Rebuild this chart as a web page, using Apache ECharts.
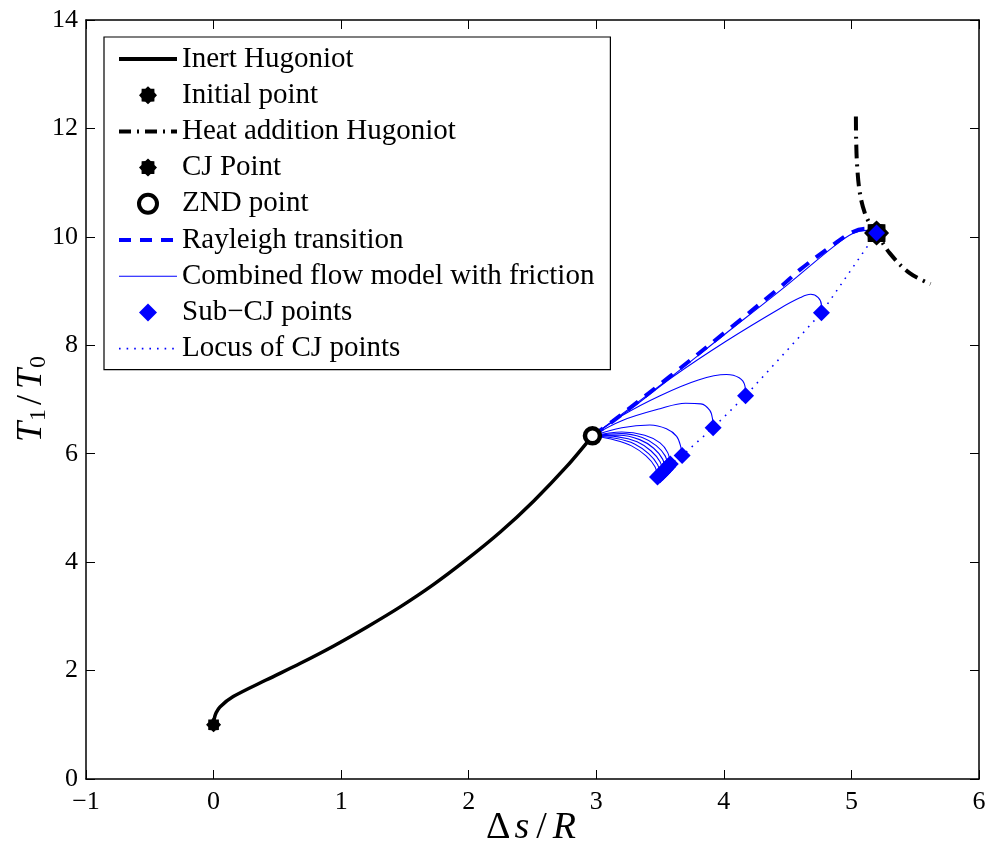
<!DOCTYPE html>
<html>
<head>
<meta charset="utf-8">
<script src="https://cdn.jsdelivr.net/npm/echarts@6/dist/echarts.min.js"></script>
<style>
html, body { margin: 0; padding: 0; background: #fff; }
#chart { width: 992px; height: 853px; }
</style>
</head>
<body>
<div id="chart"></div>
<script>
// ---- data (x = ds/R, y = T1/T0) ----
var inertHugoniot = [[0,1],[0.004,1.1],[0.02,1.22],[0.05,1.33],[0.154,1.52],[0.416,1.83],[0.677,2.13],[0.938,2.45],[1.2,2.8],[1.46,3.17],[1.72,3.58],[1.98,4.04],[2.25,4.56],[2.51,5.13],[2.77,5.77],[2.97,6.33]];
var initialPoint = [[0,1]];
var heatHugoniot = [[5.035,12.22],[5.037,11.79],[5.045,11.3],[5.066,10.81],[5.105,10.44],[5.157,10.19],[5.197,10.07],[5.3,9.7],[5.457,9.33],[5.62,9.13]];
var cjPoint = [[5.197,10.07]];
var zndPoint = [[2.97,6.33]];
var rayleigh = [[2.97,6.33],[3.13,6.6],[3.58,7.43],[4.02,8.26],[4.44,9.07],[4.6,9.4],[4.86,9.86],[5.01,10.09],[5.12,10.15],[5.197,10.07]];
// combined flow model curves, one per friction level
var flow0 = [[2.97,6.33],[3.5,7.26],[4.0,8.19],[4.5,9.12],[4.86,9.82],[5.01,10.06],[5.12,10.12],[5.197,10.07]];
var flow1 = [[2.97,6.33],[3.3,6.88],[3.6,7.42],[4.02,8.08],[4.44,8.68],[4.6,8.88],[4.68,8.94],[4.74,8.88],[4.765,8.74],[4.765,8.6]];
var flow2 = [[2.97,6.33],[3.2,6.7],[3.5,7.07],[3.8,7.36],[4.02,7.46],[4.12,7.4],[4.165,7.25],[4.17,7.07]];
var flow3 = [[2.97,6.33],[3.2,6.61],[3.5,6.83],[3.7,6.93],[3.82,6.92],[3.89,6.8],[3.912,6.63],[3.916,6.48]];
var flow4 = [[2.97,6.33],[3.2,6.48],[3.42,6.53],[3.55,6.46],[3.63,6.32],[3.662,6.13],[3.673,5.965]];
var flow5 = [[2.97,6.33],[3.2,6.4],[3.38,6.34],[3.5,6.2],[3.56,6.02],[3.58,5.81]];
var flow6 = [[2.97,6.33],[3.2,6.37],[3.36,6.3],[3.47,6.15],[3.54,5.96],[3.56,5.76]];
var flow7 = [[2.97,6.33],[3.18,6.34],[3.34,6.26],[3.45,6.1],[3.52,5.9],[3.54,5.71]];
var flow8 = [[2.97,6.33],[3.17,6.31],[3.32,6.22],[3.43,6.05],[3.5,5.85],[3.52,5.66]];
var flow9 = [[2.97,6.33],[3.16,6.28],[3.3,6.18],[3.41,6.0],[3.48,5.8],[3.5,5.61]];
var flow10 = [[2.97,6.33],[3.15,6.25],[3.28,6.14],[3.39,5.96],[3.46,5.76],[3.48,5.57]];
var subCJ = [[3.48,5.57],[3.5,5.61],[3.52,5.66],[3.54,5.71],[3.56,5.76],[3.58,5.81],[3.673,5.965],[3.916,6.48],[4.17,7.07],[4.765,8.6],[5.197,10.07]];
var cjLocus = [[3.48,5.57],[3.58,5.81],[3.673,5.965],[3.916,6.48],[4.17,7.07],[4.765,8.6],[5.197,10.07]];
var xTicks = [-1, 6, 1];
var yTicks = [0, 14, 2];

var BLUE = '#0000ff';
var FONT = 'Liberation Serif';

// spiky filled marker (like the MATLAB star markers)
function starPath(n, inner) {
	var s = 'path://', i, a, r;
	for (i = 0; i < 2 * n; i++) {
		a = Math.PI * i / n;
		r = (i % 2) ? inner : 1;
		s += (i ? 'L' : 'M') + (50 + 50 * r * Math.sin(a)).toFixed(2) + ',' + (50 - 50 * r * Math.cos(a)).toFixed(2);
	}
	return s + 'Z';
}
var STAR = starPath(8, 0.78);
var DIAMOND = 'path://M50,0L100,50L50,100L0,50Z';

function flowSeries(d) {
	return {
		name: 'Combined flow model with friction', type: 'line', data: d,
		symbol: 'none', smooth: 0.35, z: 4,
		lineStyle: { color: BLUE, width: 1.1 }, itemStyle: { color: BLUE }
	};
}

var series = [
	{ name: 'Inert Hugoniot', type: 'line', data: inertHugoniot, symbol: 'none', smooth: 0.3, z: 3,
	  lineStyle: { color: '#000', width: 3.5 }, itemStyle: { color: '#000' } },
	{ name: 'Initial point', type: 'scatter', data: initialPoint, symbol: STAR, symbolSize: 15, z: 6,
	  itemStyle: { color: '#000', opacity: 1 } },
	{ name: 'Heat addition Hugoniot', type: 'line', data: heatHugoniot, symbol: 'none', smooth: 0.35, z: 3,
	  lineStyle: { color: '#000', width: 4, type: [14, 6, 2, 6] }, itemStyle: { color: '#000' } },
	{ name: 'CJ Point', type: 'scatter', data: cjPoint, symbol: STAR, symbolSize: 25, z: 6,
	  itemStyle: { color: '#000', opacity: 1 } },
	{ name: 'ZND point', type: 'scatter', data: zndPoint, symbol: 'circle', symbolSize: 15, z: 8,
	  itemStyle: { color: '#fff', borderColor: '#000', borderWidth: 4.5, opacity: 1 } },
	{ name: 'Rayleigh transition', type: 'line', data: rayleigh, symbol: 'none', smooth: 0.35, z: 4,
	  lineStyle: { color: BLUE, width: 4, type: [13, 9] }, itemStyle: { color: BLUE } },
	flowSeries(flow0), flowSeries(flow1), flowSeries(flow2), flowSeries(flow3), flowSeries(flow4),
	flowSeries(flow5), flowSeries(flow6), flowSeries(flow7), flowSeries(flow8), flowSeries(flow9), flowSeries(flow10),
	{ name: 'Sub\u2212CJ points', type: 'scatter', data: subCJ, symbol: DIAMOND, symbolSize: 17, z: 7,
	  itemStyle: { color: BLUE, opacity: 1 } },
	{ name: 'Locus of CJ points', type: 'line', data: cjLocus, symbol: 'none', z: 4,
	  lineStyle: { color: BLUE, width: 1.6, type: [1.6, 6] }, itemStyle: { color: BLUE } }
];

function minus(v) { return String(v).replace('-', '\u2212'); }

var tickStyle = { show: true, inside: true, length: 9, lineStyle: { color: '#000', width: 1 } };
var lineStyle = { show: true, onZero: false, lineStyle: { color: '#000', width: 1.5 } };
var labelStyle = { color: '#000', fontFamily: FONT, fontSize: 26 };
var noSymbol = { opacity: 0 };

var option = {
	backgroundColor: '#fff',
	animation: false,
	grid: { left: 86, top: 20, right: 13, bottom: 74, containLabel: false, outerBoundsMode: 'none' },
	legend: {
		orient: 'vertical', left: 104, top: 37,
		padding: [7.5, 16, 6.5, 13], itemGap: 7.2,
		itemWidth: 58, itemHeight: 18,
		borderColor: '#000', borderWidth: 1.2, backgroundColor: '#fff',
		selectedMode: false,
		textStyle: { color: '#000', fontFamily: FONT, fontSize: 29, lineHeight: 29 },
		data: [
			{ name: 'Inert Hugoniot', itemStyle: noSymbol, lineStyle: { width: 4 } },
			{ name: 'Initial point' },
			{ name: 'Heat addition Hugoniot', itemStyle: noSymbol, lineStyle: { width: 4, type: [12, 6, 2, 6] } },
			{ name: 'CJ Point' },
			{ name: 'ZND point', itemStyle: { borderWidth: 4 } },
			{ name: 'Rayleigh transition', itemStyle: noSymbol, lineStyle: { width: 4, type: [12, 9] } },
			{ name: 'Combined flow model with friction', itemStyle: noSymbol, lineStyle: { width: 1.1 } },
			{ name: 'Sub\u2212CJ points' },
			{ name: 'Locus of CJ points', itemStyle: noSymbol, lineStyle: { width: 1.6, type: [1.6, 6] } }
		]
	},
	xAxis: [{
		type: 'value', min: xTicks[0], max: xTicks[1], interval: xTicks[2], position: 'bottom',
		axisLine: lineStyle, axisTick: tickStyle, splitLine: { show: false },
		axisLabel: Object.assign({ margin: 10, formatter: minus }, labelStyle),
		name: '{d|\u0394}{i|s}{n|/}{i|R}', nameLocation: 'middle', nameGap: 30, nameMoveOverlap: false,
		nameTextStyle: { color: '#000', fontFamily: FONT, fontSize: 38,
			rich: { d: { fontFamily: FONT, fontSize: 38, padding: [0, 2, 0, 0] },
				n: { fontFamily: FONT, fontSize: 38, padding: [0, 4, 0, 4] },
				i: { fontFamily: FONT, fontSize: 38, fontStyle: 'italic', padding: [0, 3, 0, 2] } } }
	}, {
		type: 'value', min: xTicks[0], max: xTicks[1], interval: xTicks[2], position: 'top',
		axisLine: lineStyle, axisTick: tickStyle, splitLine: { show: false }, axisLabel: { show: false }
	}],
	yAxis: [{
		type: 'value', min: yTicks[0], max: yTicks[1], interval: yTicks[2], position: 'left',
		axisLine: lineStyle, axisTick: tickStyle, splitLine: { show: false },
		axisLabel: Object.assign({ margin: 8 }, labelStyle),
		name: '{i|T}{s|1}{n|/}{i|T}{s|0}', nameLocation: 'middle', nameGap: 35, nameMoveOverlap: false,
		nameTextStyle: { color: '#000', fontFamily: FONT, fontSize: 36,
			rich: { i: { fontFamily: FONT, fontSize: 36, fontStyle: 'italic', lineHeight: 38, padding: [0, 1, 0, 2] },
				n: { fontFamily: FONT, fontSize: 36, lineHeight: 38, padding: [0, 4, 0, 3] },
				s: { fontFamily: FONT, fontSize: 24, lineHeight: 14, verticalAlign: 'bottom', padding: [0, 1, 0, 0] } } }
	}, {
		type: 'value', min: yTicks[0], max: yTicks[1], interval: yTicks[2], position: 'right',
		axisLine: lineStyle, axisTick: tickStyle, splitLine: { show: false }, axisLabel: { show: false }
	}],
	series: series
};

var chart = echarts.init(document.getElementById('chart'), null, { renderer: 'canvas' });
chart.setOption(option);
</script>
</body>
</html>
